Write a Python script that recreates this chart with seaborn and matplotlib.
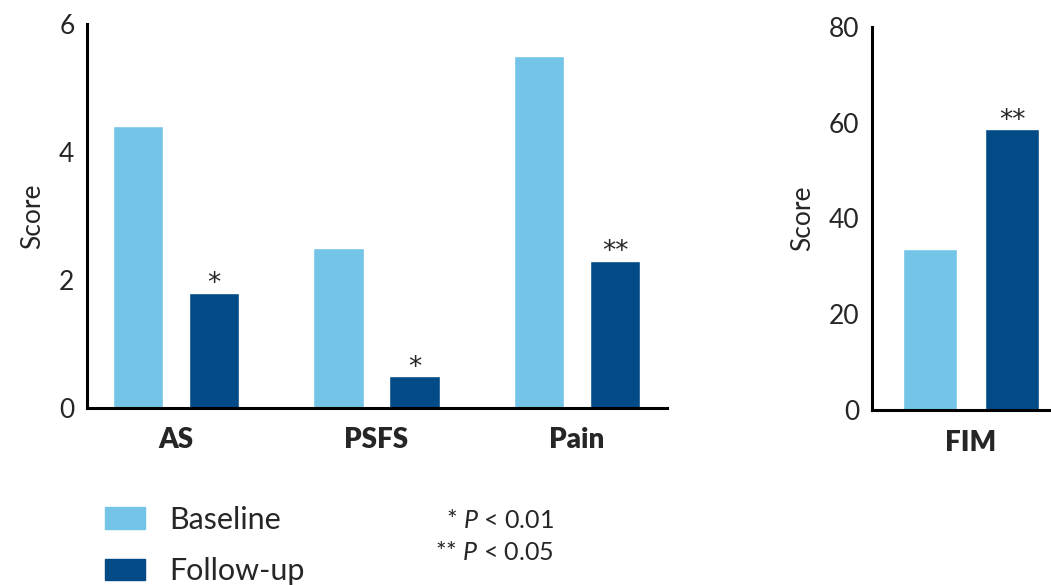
import matplotlib
matplotlib.use("Agg")
import matplotlib.pyplot as plt
import seaborn as sns
import pandas as pd

# data
categories = ["AS", "PSFS", "Pain"]
baseline = [4.4, 2.5, 5.5]
followup = [1.8, 0.5, 2.3]
stars = ["*", "*", "**"]

fim_category = ["FIM"]
fim_baseline = [33.7]
fim_followup = [58.7]
fim_stars = ["**"]

groups = ["Baseline", "Follow-up"]
colors = {"Baseline": "#73C4E7", "Follow-up": "#034B87"}

sns.set_style("white")
plt.rcParams["font.family"] = ["Lato", "DejaVu Sans"]
plt.rcParams["mathtext.fontset"] = "custom"
plt.rcParams["mathtext.it"] = "Lato:italic"
plt.rcParams["mathtext.rm"] = "Lato"


def long_df(cats, base, follow):
    rows = []
    for c, b, f in zip(cats, base, follow):
        rows.append({"cat": c, "group": "Baseline", "score": b})
        rows.append({"cat": c, "group": "Follow-up", "score": f})
    return pd.DataFrame(rows)


df_left = long_df(categories, baseline, followup)
df_right = long_df(fim_category, fim_baseline, fim_followup)

fig = plt.figure(figsize=(10.51, 5.85), dpi=100)
ax1 = fig.add_axes([0.0828, 0.3026, 0.5518, 0.6564])
ax2 = fig.add_axes([0.8297, 0.299, 0.1703, 0.655])


def draw(ax, df, ylim, yticks, marks, xlim):
    sns.barplot(data=df, x="cat", y="score", hue="group", hue_order=groups,
                palette=colors, width=0.76, gap=0.34, saturation=1,
                errorbar=None, legend=False, ax=ax)
    ax.set_ylim(*ylim)
    ax.set_xlim(*xlim)
    ax.set_yticks(yticks)
    ax.set_xlabel("")
    ax.set_ylabel("Score", fontsize=19, labelpad=10)
    for side in ["top", "right"]:
        ax.spines[side].set_visible(False)
    for side in ["left", "bottom"]:
        ax.spines[side].set_linewidth(2.2)
        ax.spines[side].set_color("black")
        ax.spines[side].set_clip_on(False)
    ax.tick_params(axis="y", length=7, width=2.2, labelsize=19, pad=2, color="black")
    ax.tick_params(axis="x", length=0, pad=14)
    for lab in ax.get_xticklabels():
        lab.set_fontweight("heavy")
        lab.set_fontsize(20)
    span = ylim[1] - ylim[0]
    for bar, s in zip(ax.containers[1], marks):
        ax.text(bar.get_x() + bar.get_width() / 2, bar.get_height() - span * 0.012, s,
                ha="center", va="bottom", fontsize=19, family="DejaVu Sans",
                clip_on=False)


draw(ax1, df_left, (0, 6), [0, 2, 4, 6], stars, (-0.444, 2.449))
draw(ax2, df_right, (0, 80), [0, 20, 40, 60, 80], fim_stars, (-0.458, 0.37))

handles = [plt.Rectangle((0, 0), 1, 1, color=colors[g]) for g in groups]
fig.legend(handles, groups, loc="upper left", bbox_to_anchor=(0.1, 0.135),
           frameon=False, fontsize=22, handlelength=1.3, handleheight=0.72,
           handletextpad=0.8, labelspacing=0.76, borderaxespad=0, borderpad=0)

fig.text(0.527, 1 - 520 / 585, r"* $\it{P}$ < 0.01", ha="right", va="center", fontsize=18)
fig.text(0.527, 1 - 553 / 585, r"** $\it{P}$ < 0.05", ha="right", va="center", fontsize=18)

fig.savefig("out.png", dpi=100)
